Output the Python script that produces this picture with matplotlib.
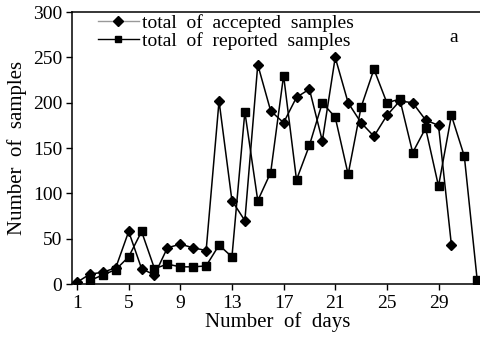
import matplotlib
matplotlib.use("Agg")
import matplotlib.pyplot as plt
from matplotlib.lines import Line2D

plt.rcParams['font.family'] = ['Liberation Serif', 'DejaVu Serif']

days_acc = list(range(1, 31))
accepted = [2, 11, 13, 18, 58, 17, 10, 40, 44, 40, 37, 202, 92, 70, 242,
            191, 178, 206, 215, 158, 250, 200, 178, 163, 186, 202, 200, 181, 175, 43]

days_rep = list(range(2, 33))
reported = [4, 10, 16, 30, 58, 17, 22, 19, 19, 20, 43, 30, 190, 92, 123,
            230, 115, 153, 200, 184, 121, 195, 237, 200, 204, 145, 172, 108, 186, 141, 4]

xticks = [1, 5, 9, 13, 17, 21, 25, 29]
yticks = [0, 50, 100, 150, 200, 250, 300]

fig = plt.figure(figsize=(4.8, 3.46), dpi=100)
ax = fig.add_axes([0.15, 0.179, 0.855, 0.786])

ax.plot(days_acc, accepted, color='black', lw=1.1, marker='D', ms=5.5, mfc='black', mec='black')
ax.plot(days_rep, reported, color='black', lw=1.1, marker='s', ms=5.5, mfc='black', mec='black')

ax.set_xlim(0.61, 32.4)
ax.set_ylim(0, 300)
ax.set_xticks(xticks)
ax.set_yticks(yticks)
ax.tick_params(direction='out', length=4, width=1, labelsize=14)
ax.tick_params(axis='x', pad=4)
ax.tick_params(axis='y', pad=3)
ax.spines['right'].set_visible(False)
for s in ['left', 'bottom', 'top']:
    ax.spines[s].set_linewidth(1.1)

ax.set_xlabel('Number  of  days', fontsize=15, labelpad=0)
ax.set_ylabel('Number  of  samples', fontsize=15, labelpad=4)

handles = [
    Line2D([], [], color='#999999', lw=1.0, marker='D', ms=5, mfc='black', mec='black'),
    Line2D([], [], color='black', lw=1.0, marker='s', ms=5, mfc='black', mec='black'),
]
ax.legend(handles, ['total  of  accepted  samples', 'total  of  reported  samples'],
          loc='upper left', bbox_to_anchor=(0.035, 1.035), frameon=False, fontsize=14,
          handlelength=2.1, handletextpad=0.15, labelspacing=0.0, borderaxespad=0.2)
ax.text(0.93, 0.905, 'a', transform=ax.transAxes, fontsize=14, ha='center', va='center')

fig.savefig('out.png', dpi=100)
